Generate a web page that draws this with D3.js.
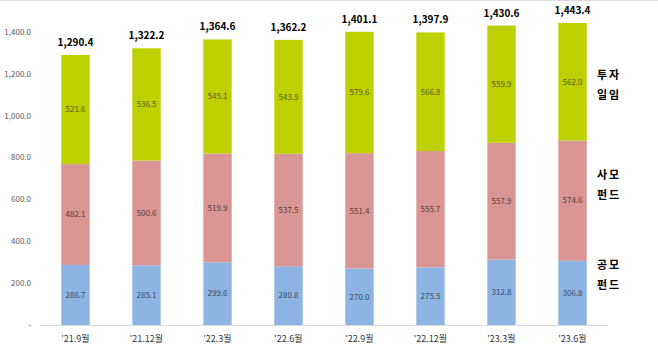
<!DOCTYPE html>
<html>
<head>
<meta charset="utf-8">
<script src="https://cdn.jsdelivr.net/npm/d3@7"></script>
<style>
  body { margin: 0; background: #fff; }
  svg { display: block; font-family: "Noto Sans CJK KR", "Noto Sans", sans-serif; }
</style>
</head>
<body>
<div id="chart"></div>
<script>
const categories = ["'21.9월", "'21.12월", "'22.3월", "'22.6월", "'22.9월", "'22.12월", "'23.3월", "'23.6월"];
const publicFund = [286.7, 285.1, 299.6, 280.8, 270.0, 275.5, 312.8, 306.8];
const privateFund = [482.1, 500.6, 519.9, 537.5, 551.4, 555.7, 557.9, 574.6];
const discretionary = [521.6, 536.5, 545.1, 543.9, 579.6, 566.8, 559.9, 562.0];
const totals = [1290.4, 1322.2, 1364.6, 1362.2, 1401.1, 1397.9, 1430.6, 1443.4];
const yTicks = [0, 200, 400, 600, 800, 1000, 1200, 1400];
const seriesNames = ["공모 펀드", "사모 펀드", "투자 일임"];

const W = 658, H = 349;
const x0 = 40, x1 = 608, yBase = 325, yTop = 32;

const svg = d3.select("#chart").append("svg")
  .attr("width", W).attr("height", H);

// thin frame line at the top
svg.append("line").attr("x1", 0).attr("x2", W).attr("y1", 0.5).attr("y2", 0.5)
  .attr("stroke", "#d9d9d9");

const x = d3.scaleBand().domain(categories).range([x0, x1]).paddingInner(0.6).paddingOuter(0.3);
const y = d3.scaleLinear().domain([0, 1400]).range([yBase, yTop]);

// y axis labels
const fmt = d3.format(",.1f");
svg.append("g").selectAll("text")
  .data(yTicks).enter().append("text")
  .attr("x", 31).attr("y", d => y(d)).attr("dy", "0.35em")
  .attr("text-anchor", "end")
  .attr("font-size", 8).attr("fill", "#595959")
  .text(d => d === 0 ? "-" : fmt(d));

// stacked data
const rows = categories.map((c, i) => ({ cat: c, a: publicFund[i], b: privateFund[i], c: discretionary[i] }));
const stack = d3.stack().keys(["a", "b", "c"])(rows);
const colors = ["#8db4e2", "#da9694", "#bfd000"];
const txtColors = ["#3a4a60", "#5a3a3a", "#5a5a2a"];

stack.forEach((layer, li) => {
  const g = svg.append("g");
  g.selectAll("rect").data(layer).enter().append("rect")
    .attr("x", d => x(d.data.cat))
    .attr("y", d => y(d[1]))
    .attr("width", x.bandwidth())
    .attr("height", d => y(d[0]) - y(d[1]))
    .attr("fill", colors[li]);
  g.selectAll("text").data(layer).enter().append("text")
    .attr("x", d => x(d.data.cat) + x.bandwidth() / 2)
    .attr("y", d => (y(d[0]) + y(d[1])) / 2)
    .attr("dy", "0.35em")
    .attr("text-anchor", "middle")
    .attr("font-size", 8).attr("fill", txtColors[li])
    .text(d => (d[1] - d[0]).toFixed(1));
});

// baseline
svg.append("line").attr("x1", x0).attr("x2", x1).attr("y1", yBase + 0.5).attr("y2", yBase + 0.5)
  .attr("stroke", "#d9d9d9");

// totals
svg.append("g").selectAll("text").data(totals).enter().append("text")
  .attr("x", (d, i) => x(categories[i]) + x.bandwidth() / 2)
  .attr("y", d => y(d) - 9)
  .attr("text-anchor", "middle")
  .attr("font-size", 10).attr("font-weight", "bold").attr("fill", "#000")
  .text(d => fmt(d));

// category labels
svg.append("g").selectAll("text").data(categories).enter().append("text")
  .attr("x", d => x(d) + x.bandwidth() / 2)
  .attr("y", 342)
  .attr("text-anchor", "middle")
  .attr("font-size", 9).attr("fill", "#333")
  .text(d => d);

// series labels at right
const labelY = [[265, 285], [175, 195], [75, 95]];
seriesNames.forEach((name, i) => {
  const parts = name.split(" ");
  parts.forEach((p, j) => {
    svg.append("text")
      .attr("x", 609).attr("y", labelY[i][j]).attr("dy", "0.35em")
      .attr("text-anchor", "middle")
      .attr("font-size", 11).attr("font-weight", "bold").attr("fill", "#000")
      .attr("letter-spacing", 2)
      .text(p);
  });
});
</script>
</body>
</html>
